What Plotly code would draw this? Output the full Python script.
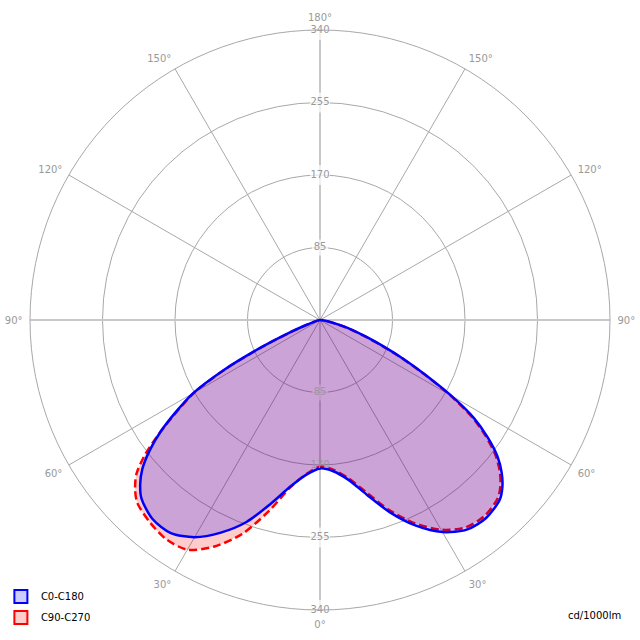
import plotly.graph_objects as go

# Gamma angles (degrees from nadir)
GAMMA = [0, 5, 10, 15, 20, 25, 30, 35, 40, 45, 47.5, 50, 52.5, 55, 57.5, 60,
         62.5, 65, 67.5, 70, 72.5, 75, 80, 85, 90]
# Intensities in cd/1000lm
C0 = [173, 178, 190, 212, 240, 266, 287, 300, 303, 298, 290, 278, 262, 240, 214, 178,
      140, 108, 80, 58, 42, 28, 10, 3, 0]
C180 = [174, 182, 198, 223, 252, 275, 294, 305, 305, 296, 286, 272, 252, 228, 200, 172,
        128, 78, 40, 18, 9, 5, 1, 0, 0]
C90 = [172, 176, 188, 209, 237, 263, 284, 297, 300, 295, 287, 275, 259, 237, 211, 176,
       138, 106, 78, 56, 40, 27, 9, 3, 0]
C270 = [172, 181, 199, 232, 267, 293, 311, 314, 310, 303, 294, 281, 258, 228, 198, 170,
        126, 76, 38, 16, 8, 4, 1, 0, 0]

R_TICKS = [85, 170, 255, 340]
A_TICKVALS = [0, 30, 60, 90, 120, 150, 180, 210, 240, 270, 300, 330]
A_TICKTEXT = ["0°", "30°", "60°", "90°", "120°", "150°", "180°",
              "150°", "120°", "90°", "60°", "30°"]
RMAX = 340

FONT = "DejaVu Sans, sans-serif"
W = 640


def plane(left, right):
    th = [360 - g for g in reversed(GAMMA)] + [g for g in GAMMA[1:]]
    r = list(reversed(left)) + right[1:]
    return r, th


fig = go.Figure()

# main axis lines (0-180 and 90-270)
fig.add_trace(go.Scatterpolar(r=[RMAX, RMAX], theta=[0, 180], mode="lines",
                              line=dict(color="#c8c8c8", width=2),
                              showlegend=False, hoverinfo="skip"))
fig.add_trace(go.Scatterpolar(r=[RMAX, RMAX], theta=[90, 270], mode="lines",
                              line=dict(color="#c8c8c8", width=2),
                              showlegend=False, hoverinfo="skip"))

r2, th2 = plane(C270, C90)
fig.add_trace(go.Scatterpolar(r=r2, theta=th2, mode="lines", name="C90-C270",
                              fill="toself", fillcolor="rgba(255,0,0,0.2)",
                              line=dict(color="#ff0000", width=2.5, dash="8px,4px",
                                        shape="spline", smoothing=0.8),
                              showlegend=False, hoverinfo="skip"))
r1, th1 = plane(C180, C0)
fig.add_trace(go.Scatterpolar(r=r1, theta=th1, mode="lines", name="C0-C180",
                              fill="toself", fillcolor="rgba(0,0,255,0.2)",
                              line=dict(color="#0000ff", width=2.5,
                                        shape="spline", smoothing=0.8),
                              showlegend=False, hoverinfo="skip"))

# legend entries (box symbols)
fig.add_trace(go.Scatterpolar(r=[None], theta=[None], mode="markers", name="C0-C180",
                              legendgroup="a",
                              marker=dict(symbol="square", size=13,
                                          color="rgba(0,0,255,0.2)",
                                          line=dict(color="#0000ff", width=2)),
                              hoverinfo="skip"))
fig.add_trace(go.Scatterpolar(r=[None], theta=[None], mode="markers", name="C90-C270",
                              legendgroup="b",
                              marker=dict(symbol="square", size=13,
                                          color="rgba(255,0,0,0.2)",
                                          line=dict(color="#ff0000", width=2)),
                              hoverinfo="skip"))

# radial tick labels on top and bottom (with small background patches)
LABEL_BG = {180: ["white", "white", "white", "white"],
            0: ["rgb(204,163,214)", "rgba(0,0,0,0)", "white", "white"]}
for ang in (180, 0):
    fig.add_trace(go.Scatterpolar(r=R_TICKS, theta=[ang] * len(R_TICKS), mode="markers+text",
                                  text=[str(v) for v in R_TICKS],
                                  textposition="middle center",
                                  marker=dict(symbol="square", size=[16, 20, 20, 20],
                                              color=LABEL_BG[ang], line=dict(width=0)),
                                  textfont=dict(color="#999999", size=10, family=FONT),
                                  cliponaxis=False, showlegend=False, hoverinfo="skip"))

fig.update_layout(
    width=W, height=W,
    margin=dict(l=0, r=0, t=0, b=0),
    paper_bgcolor="white",
    font=dict(family=FONT, size=10, color="#000000"),
    polar=dict(
        domain=dict(x=[30 / W, 610 / W], y=[30 / W, 610 / W]),
        bgcolor="white",
        radialaxis=dict(range=[0, RMAX], tickvals=R_TICKS, showticklabels=False,
                        ticks="", showline=False, gridcolor="#a8a8a8", gridwidth=1),
        angularaxis=dict(rotation=-90, direction="counterclockwise",
                         tickvals=A_TICKVALS, ticktext=A_TICKTEXT,
                         ticks="outside", ticklen=5, tickcolor="rgba(0,0,0,0)",
                         tickfont=dict(color="#999999", size=10, family=FONT),
                         showline=True, linecolor="#a8a8a8", linewidth=1,
                         gridcolor="#a8a8a8", gridwidth=1),
    ),
    legend=dict(x=0.017, y=0.0125, xanchor="left", yanchor="bottom",
                font=dict(size=10, family=FONT), bgcolor="rgba(0,0,0,0)",
                itemwidth=30, tracegroupgap=2, indentation=-10),
    annotations=[dict(text="cd/1000lm", xref="paper", yref="paper",
                      x=0.973, y=0.039, xanchor="right", yanchor="middle",
                      showarrow=False, font=dict(size=10, family=FONT))],
)

fig.write_html("out.html", config={"displayModeBar": False},
               post_script="document.body.style.margin='0px';")
